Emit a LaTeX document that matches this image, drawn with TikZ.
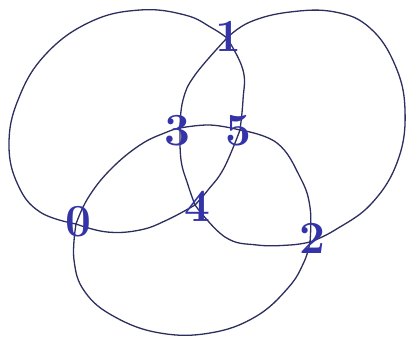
\documentclass[tikz,border=0pt]{standalone}
\usepackage{fontspec}
\definecolor{inkline}{HTML}{2C2E5E}
\definecolor{inkdigit}{HTML}{3434A8}
\tikzset{
  edge/.style={draw=inkline, line width=1.3pt, line join=round, line cap=round},
  digit/.style={text=inkdigit, font=\fontsize{46}{46}\selectfont\bfseries, inner sep=0pt}
}
\begin{document}
\begin{tikzpicture}[x=1pt,y=-1pt]
\useasboundingbox (0,0) rectangle (408,338);
\fill[white] (0,0) rectangle (408,338);
\coordinate (c0) at (76,224);
\coordinate (c1) at (227,38);
\coordinate (c2) at (310,242);
\coordinate (c3) at (180,128);
\coordinate (c4) at (195,205);
\coordinate (c5) at (240,130);
% big outer loops
\draw[edge] plot[smooth,tension=0.7] coordinates {(c0) (40,212) (18,185) (9,145) (18,100) (45,55) (90,22) (140,10) (185,15) (212,28) (c1)};
\draw[edge] plot[smooth,tension=0.7] coordinates {(c1) (250,22) (290,12) (335,12) (370,28) (395,65) (405,110) (398,160) (372,203) (335,230) (c2)};
\draw[edge] plot[smooth,tension=0.7] coordinates {(c0) (74,260) (85,292) (115,317) (160,333) (210,333) (255,317) (288,288) (304,262) (c2)};
% middle oval
\draw[edge] plot[smooth,tension=0.7] coordinates {(c0) (88,198) (110,170) (140,145) (167,132) (c3)};
\draw[edge] plot[smooth,tension=0.7] coordinates {(c3) (210,125) (c5)};
\draw[edge] plot[smooth,tension=0.7] coordinates {(c5) (277,143) (300,177) (310,207) (c2)};
% lower arcs
\draw[edge] plot[smooth,tension=0.7] coordinates {(c0) (107,232) (140,230) (167,220) (c4)};
\draw[edge] plot[smooth,tension=0.7] coordinates {(c4) (225,237) (257,245) (290,245) (c2)};
% lens
\draw[edge] plot[smooth,tension=0.7] coordinates {(c1) (195,75) (183,100) (c3)};
\draw[edge] plot[smooth,tension=0.7] coordinates {(c3) (181,160) (188,185) (c4)};
\draw[edge] plot[smooth,tension=0.7] coordinates {(c1) (243,70) (243,100) (c5)};
\draw[edge] plot[smooth,tension=0.7] coordinates {(c5) (224,168) (208,190) (c4)};
% labels
\node[digit] (n0) at (78,222) {0};
\node[digit] (n1) at (228,36) {1};
\node[digit] (n2) at (312,238) {2};
\node[digit] (n3) at (177,131) {3};
\node[digit] (n4) at (197,206) {4};
\node[digit] (n5) at (238,131) {5};
\end{tikzpicture}
\end{document}
